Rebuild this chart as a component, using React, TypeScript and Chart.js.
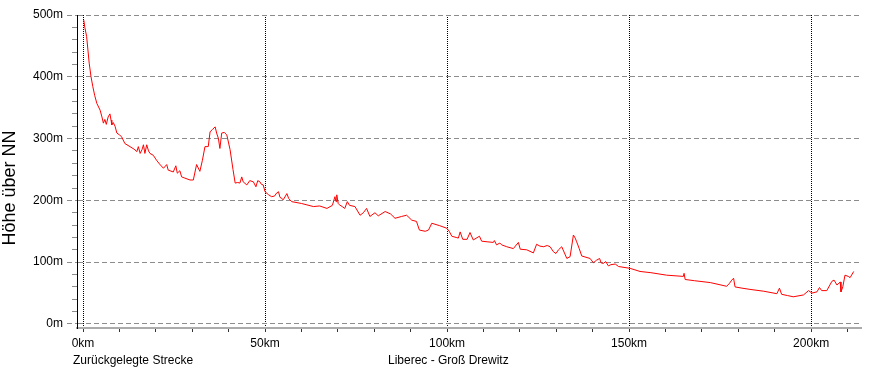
import React, { useEffect, useRef } from "react";
import { Chart, registerables } from "chart.js";

Chart.register(...registerables);

// distance along the route (km)
const distanceKm: number[] = [
  0.2, 0.5, 1.0, 1.7, 2.2, 2.7, 3.2, 3.8, 4.7, 5.2, 5.6, 6.0, 6.4, 6.9, 7.4, 7.7, 7.9, 8.3, 8.8, 9.3,
  10.0, 10.6, 11.5, 12.9, 14.0, 14.8, 15.2, 15.7, 16.2, 16.6, 17.0, 17.5, 18.0, 18.4, 19.3, 20.2, 21.0, 22.1, 23.0, 23.4,
  24.8, 25.5, 25.9, 26.6, 27.1, 28.0, 29.4, 30.3, 31.2, 32.1, 32.8, 33.5, 34.4, 34.9, 35.6, 36.3, 36.7, 37.2, 37.6, 38.1,
  38.8, 39.5, 40.4, 41.2, 41.8, 42.5, 43.1, 43.6, 44.0, 45.0, 45.8, 46.8, 47.5, 48.0, 48.6, 49.0, 49.5, 50.0, 51.0, 51.8,
  52.6, 53.2, 53.7, 54.1, 54.6, 55.0, 55.6, 56.0, 56.5, 57.3, 60.0, 63.3, 65.0, 67.0, 68.5, 69.2, 69.5, 69.7, 70.1, 70.4,
  71.2, 71.9, 72.6, 73.2, 74.7, 76.1, 77.0, 77.9, 78.8, 80.2, 81.1, 83.0, 84.5, 85.7, 87.5, 88.9, 90.3, 91.6, 92.4, 94.0,
  94.9, 95.8, 98.0, 99.9, 100.6, 101.3, 102.5, 103.1, 103.6, 104.3, 105.5, 106.3, 107.2, 108.9, 109.5, 111.0, 112.7, 113.0, 113.6, 114.5,
  115.0, 116.4, 118.2, 119.6, 120.1, 121.9, 123.7, 124.6, 125.5, 126.5, 127.5, 128.3, 129.2, 129.9, 130.6, 131.5, 132.9, 133.8, 134.7, 135.2,
  135.6, 136.3, 137.0, 139.3, 140.2, 141.0, 141.9, 142.3, 142.9, 143.6, 144.3, 145.0, 146.2, 147.1, 150.3, 153.0, 156.0, 160.3, 164.9, 165.1,
  165.4, 168.0, 172.3, 176.8, 177.6, 178.2, 178.7, 179.1, 181.0, 183.2, 187.0, 190.6, 191.3, 191.9, 193.5, 195.1, 197.9, 199.3, 200.2, 201.6,
  202.3, 202.9, 204.3, 205.7, 206.3, 207.1, 208.0, 208.2, 208.7, 209.3, 210.2, 210.7, 211.7,
];

// elevation above sea level (m)
const elevationM: number[] = [
  492, 480, 465, 422, 400, 384, 370, 357, 346, 335, 325, 331, 323, 335, 340, 330, 322, 326, 320, 309,
  306, 303, 292, 287, 283, 279, 287, 276, 282, 290, 276, 290, 280, 276, 273, 265, 259, 252, 258, 249,
  246, 256, 244, 248, 238, 236, 233, 233, 258, 247, 265, 287, 287, 311, 315, 319, 309, 300, 284, 309,
  310, 306, 282, 250, 228, 229, 228, 238, 230, 225, 232, 230, 222, 232, 230, 226, 225, 214, 209, 206,
  207, 212, 214, 205, 203, 201, 207, 211, 203, 198, 195, 190, 191, 187, 192, 206, 198, 209, 195, 193,
  190, 187, 198, 192, 190, 176, 180, 187, 174, 180, 175, 182, 178, 171, 174, 176, 168, 166, 152, 150,
  152, 163, 159, 155, 150, 142, 140, 139, 149, 137, 137, 148, 136, 142, 134, 133, 132, 135, 128, 131,
  128, 125, 122, 132, 121, 120, 115, 129, 126, 125, 127, 125, 117, 114, 120, 125, 106, 109, 144, 139,
  133, 122, 110, 106, 99, 103, 106, 99, 98, 101, 94, 96, 97, 93, 90, 85, 83, 79, 77, 82,
  72, 70, 67, 61, 66, 71, 74, 60, 58, 56, 53, 49, 58, 48, 46, 44, 47, 54, 50, 52,
  59, 54, 54, 69, 71, 63, 68, 52, 60, 79, 77, 75, 85,
];

const xTicks: number[] = [0, 10, 20, 30, 40, 50, 60, 70, 80, 90, 100, 110, 120, 130, 140, 150, 160, 170, 180, 190, 200, 210];
const xLabelTicks: number[] = [0, 50, 100, 150, 200];
const yTicks: number[] = [
  0, 20, 40, 60, 80, 100, 120, 140, 160, 180, 200, 220, 240, 260, 280, 300, 320, 340, 360, 380, 400, 420, 440, 460, 480, 500,
];
const yLabelTicks: number[] = [0, 100, 200, 300, 400, 500];

const yAxisTitle = "Höhe über NN";
const footerLeft = "Zurückgelegte Strecke";
const footerCenter = "Liberec - Groß Drewitz";

const FONT = "Arial, 'Liberation Sans', sans-serif";

export default function App() {
  const canvasRef = useRef<HTMLCanvasElement | null>(null);

  useEffect(() => {
    const canvas = canvasRef.current;
    if (!canvas) return;

    const textPlugin = {
      id: "extraText",
      afterDraw(chart: any) {
        const ctx = chart.ctx as CanvasRenderingContext2D;
        ctx.save();
        ctx.fillStyle = "#000";
        ctx.font = `12px ${FONT}`;
        ctx.textAlign = "left";
        ctx.textBaseline = "alphabetic";
        ctx.fillText(footerLeft, 73, 364);
        ctx.fillText(footerCenter, 388, 364);
        ctx.translate(14.5, 188);
        ctx.rotate(-Math.PI / 2);
        ctx.textAlign = "center";
        ctx.font = `18px ${FONT}`;
        ctx.fillText(yAxisTitle, 0, 0);
        ctx.restore();
      },
    };

    const chart = new Chart(canvas, {
      type: "line",
      data: {
        datasets: [
          {
            data: distanceKm.map((x, i) => ({ x, y: elevationM[i] })),
            borderColor: "#ff0000",
            borderWidth: 1,
            pointRadius: 0,
            tension: 0,
            fill: false,
          },
        ],
      },
      options: {
        responsive: false,
        animation: false,
        events: [],
        layout: { padding: { left: 0, right: 25, top: 15, bottom: 0 } },
        plugins: {
          legend: { display: false },
          tooltip: { enabled: false },
          title: { display: false },
        },
        scales: {
          x: {
            type: "linear",
            min: -1.65,
            max: 213.7,
            afterBuildTicks: (axis: any) => {
              axis.ticks = xTicks.map((v) => ({ value: v }));
            },
            afterFit: (axis: any) => {
              axis.height = 50;
            },
            ticks: {
              autoSkip: false,
              maxRotation: 0,
              padding: 4,
              color: "#000",
              font: { family: FONT, size: 12 },
              callback: (v: any) => (xLabelTicks.includes(Number(v)) ? `${v}km` : ""),
            },
            grid: {
              color: (ctx: any) =>
                ctx.tick && xLabelTicks.includes(ctx.tick.value) ? "#000" : "rgba(0,0,0,0)",
              lineWidth: 1,
              tickLength: 4,
              tickColor: "#333",
              tickWidth: 1,
            },
            border: { display: true, color: "#ababab", width: 2, dash: [1, 1] },
          },
          y: {
            type: "linear",
            min: -6.5,
            max: 500,
            afterBuildTicks: (axis: any) => {
              axis.ticks = yTicks.map((v) => ({ value: v }));
            },
            afterFit: (axis: any) => {
              axis.width = 77;
            },
            ticks: {
              autoSkip: false,
              padding: 4,
              color: "#000",
              font: { family: FONT, size: 12 },
              callback: (v: any) => (yLabelTicks.includes(Number(v)) ? `${v}m` : ""),
            },
            grid: {
              color: (ctx: any) =>
                ctx.tick && yLabelTicks.includes(ctx.tick.value) ? "#8c8c8c" : "rgba(0,0,0,0)",
              lineWidth: 1,
              tickLength: 10,
              tickColor: "#8c8c8c",
              tickWidth: 1,
              tickBorderDash: (ctx: any) =>
                ctx.tick && yLabelTicks.includes(ctx.tick.value) ? [5, 3] : [0, 5, 5, 100],
            },
            border: { display: true, color: "#000", width: 1, dash: [5, 3] },
          },
        },
      },
      plugins: [textPlugin],
    } as any);

    return () => {
      chart.destroy();
    };
  }, []);

  return (
    <div style={{ position: "fixed", left: 0, top: 0, width: 886, height: 378, background: "#fff" }}>
      <canvas ref={canvasRef} width={886} height={378} style={{ display: "block" }} />
    </div>
  );
}
